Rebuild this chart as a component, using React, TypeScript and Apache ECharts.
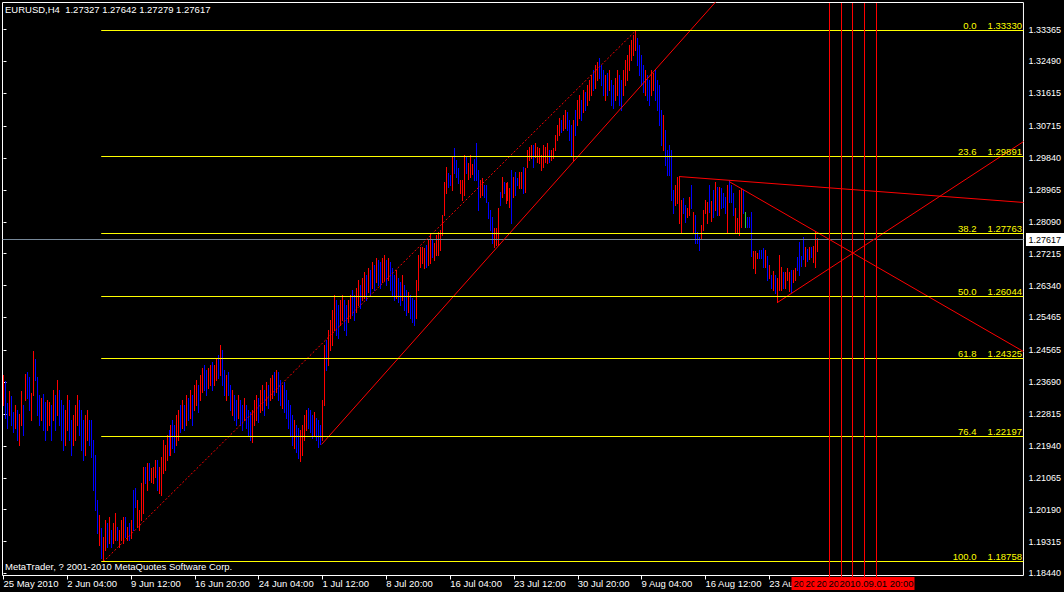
import React, { useEffect, useRef } from "react";
import * as echarts from "echarts";

const FONT = '"Liberation Sans", Arial, sans-serif';

const symbolTitle = "EURUSD,H4  1.27327 1.27642 1.27279 1.27617";
const copyright = "MetaTrader, ? 2001-2010 MetaQuotes Software Corp.";

// bar highs / lows in 1/10000 of a price unit
const barHighs = [
12388,12371,12311,12344,12330,12286,12305,12292,12281,12344,
12305,12390,12396,12382,12338,12453,12431,12382,12333,12324,
12335,12313,12319,12313,12305,12346,12333,12374,12346,12319,
12305,12292,12333,12319,12264,12278,12305,12333,12319,12292,
12264,12278,12292,12264,12264,12209,12168,12045,12004,11968,
11943,11990,11982,11998,11962,11982,12009,11971,11962,11990,
11998,11998,11971,11982,11990,12072,12078,12045,12017,12091,
12135,12135,12146,12146,12132,12135,12154,12154,12135,12162,
12209,12196,12223,12237,12250,12264,12250,12278,12292,12305,
12319,12305,12333,12324,12346,12333,12360,12374,12360,12388,
12407,12415,12401,12407,12415,12423,12415,12434,12442,12470,
12456,12401,12388,12396,12360,12346,12333,12319,12333,12319,
12305,12324,12305,12292,12286,12292,12319,12333,12324,12346,
12360,12346,12368,12360,12379,12388,12396,12401,12396,12374,
12360,12368,12346,12319,12305,12278,12264,12250,12242,12237,
12250,12278,12292,12297,12292,12278,12286,12270,12264,12250,
12319,12470,12484,12511,12539,12566,12607,12593,12580,12593,
12607,12593,12580,12593,12607,12621,12607,12626,12648,12635,
12654,12670,12662,12681,12676,12698,12690,12709,12703,12698,
12709,12717,12703,12709,12698,12681,12662,12676,12654,12643,
12662,12635,12621,12615,12607,12599,12593,12648,12717,12739,
12739,12736,12744,12758,12777,12758,12750,12772,12780,12786,
12827,12917,12958,12942,12936,12986,13011,12978,12956,12923,
12923,12991,12986,12969,12991,12967,12980,13024,12950,12923,
12928,12909,12909,12862,12840,12821,12791,12791,12846,12890,
12931,12917,12914,12917,12901,12950,12931,12945,12928,12945,
12945,12958,12956,13005,13013,13018,13018,13024,13013,13011,
12991,13018,13013,13024,13005,13005,13011,13046,13073,13093,
13087,13101,13115,13109,13087,13073,13087,13115,13142,13156,
13142,13170,13164,13183,13197,13211,13224,13238,13246,13257,
13238,13224,13211,13216,13224,13197,13183,13202,13224,13211,
13197,13224,13252,13265,13293,13307,13320,13333,13312,13293,
13265,13238,13224,13211,13197,13224,13216,13224,13197,13183,
13115,13101,13060,13005,13018,13005,12895,12909,12931,12934,
12868,12873,12854,12846,12876,12909,12835,12827,12780,12766,
12799,12840,12868,12862,12909,12865,12895,12917,12903,12903,
12901,12887,12876,12909,12923,12909,12887,12846,12818,12895,
12901,12895,12835,12821,12821,12835,12728,12728,12722,12731,
12731,12736,12731,12714,12690,12662,12673,12662,12654,12717,
12684,12670,12670,12681,12670,12676,12676,12681,12711,12752,
12714,12766,12739,12733,12739,12739,12741,12783,12764,
];

const barLows = [
12305,12270,12242,12278,12250,12231,12242,12209,12196,12250,
12223,12319,12324,12292,12264,12333,12374,12278,12250,12264,
12237,12209,12237,12250,12209,12264,12237,12278,12250,12209,
12182,12196,12237,12209,12168,12196,12209,12250,12223,12182,
12154,12168,12209,12196,12162,12072,12017,11954,11921,11886,
11876,11907,11916,11927,11916,11927,11935,11935,11916,11935,
11927,11943,11935,11935,11940,11962,12026,11971,11962,11990,
12009,12091,12072,12100,12094,12091,12108,12072,12064,12058,
12119,12127,12154,12168,12168,12187,12176,12196,12209,12231,
12242,12237,12250,12264,12270,12250,12292,12305,12286,12319,
12341,12346,12333,12352,12360,12346,12360,12374,12379,12388,
12360,12333,12319,12333,12292,12278,12264,12250,12270,12250,
12237,12264,12242,12223,12209,12204,12250,12264,12258,12286,
12292,12278,12305,12297,12319,12324,12333,12341,12319,12305,
12297,12286,12270,12242,12223,12196,12187,12176,12160,12151,
12168,12209,12237,12242,12231,12215,12223,12209,12190,12198,
12209,12305,12401,12415,12456,12470,12511,12497,12490,12525,
12539,12511,12497,12533,12544,12552,12539,12561,12580,12572,
12593,12599,12593,12615,12607,12626,12621,12643,12635,12626,
12643,12648,12635,12648,12621,12607,12593,12599,12588,12580,
12593,12566,12552,12561,12544,12533,12525,12544,12621,12684,
12695,12681,12684,12690,12695,12711,12703,12717,12717,12731,
12772,12827,12887,12903,12909,12895,12942,12931,12914,12887,
12868,12881,12942,12925,12931,12939,12923,12923,12840,12876,
12881,12876,12862,12818,12786,12750,12739,12744,12744,12854,
12876,12887,12859,12868,12849,12805,12876,12881,12909,12901,
12901,12887,12890,12958,12978,12983,12958,12986,12972,12969,
12950,12958,12972,12969,12972,12978,12983,13005,13032,13046,
13054,13060,13065,13060,13032,12991,12978,13046,13073,13093,
13087,13109,13115,13128,13142,13156,13170,13175,13197,13203,
13183,13156,13142,13156,13170,13128,13120,13142,13156,13128,
13115,13156,13183,13197,13224,13252,13265,13279,13238,13211,
13183,13164,13156,13142,13128,13156,13170,13142,13115,13073,
13018,13005,12964,12936,12936,12868,12832,12854,12859,12805,
12780,12832,12807,12821,12827,12846,12780,12750,12750,12731,
12763,12786,12832,12805,12835,12810,12821,12840,12827,12827,
12846,12849,12832,12780,12862,12862,12827,12780,12780,12772,
12793,12832,12793,12793,12793,12714,12681,12668,12709,12709,
12709,12684,12684,12648,12654,12626,12621,12613,12588,12621,
12621,12626,12626,12648,12618,12615,12643,12648,12676,12662,
12687,12706,12687,12700,12706,12711,12698,12684,12728,
];

// u = up bar, d = down bar, n = unchanged
const barDirs = [
"uddudduduu","dudduudddu","dduudududd","duudduuudd","duudddddud",
"uududuuduu","udududduuu","ududuuuduu","uuududduud","udududuudu",
"udduuduudu","ddudduddud","duddduuudu","ududuududd","uddddduddu",
"uuuddduddd","uuduuuuddu","udduudduud","uududududd","uududddudd",
"udduddduuu","uuduuduuuu","uuuddudddu","uuduuudddu","uddddduuud",
"uduuududdu","uduuuuduuu","uuuuduuuuu","duuddduduu","duduuuduud",
"ddududduud","duuuuuuudd","ddudduuddd","duddddduuu","udduududdd",
"uuuudududu","ddduddduuu","udnddduuud","ddudududuu","uduuuduudd",
"ddududuuu",
].join("");

const timeTickIdx = [0, 32, 64, 96, 128, 160, 192, 224, 256, 288, 320, 352, 384];
const timeLabels = [
  "25 May 2010", "2 Jun 04:00", "9 Jun 12:00", "16 Jun 20:00", "24 Jun 04:00",
  "1 Jul 12:00", "8 Jul 20:00", "16 Jul 04:00", "23 Jul 12:00", "30 Jul 20:00",
  "9 Aug 04:00", "16 Aug 12:00", "23 Aug 20:00",
];

const priceTicks = [
  1.33365, 1.3249, 1.31615, 1.30715, 1.2984, 1.28965, 1.2809, 1.27215, 1.2634,
  1.25465, 1.24565, 1.2369, 1.22815, 1.2194, 1.21065, 1.2019, 1.19315, 1.1844,
];

const fibLevels = ["0.0", "23.6", "38.2", "50.0", "61.8", "76.4", "100.0"];
const fibPrices = [1.3333, 1.29891, 1.27763, 1.26044, 1.24325, 1.22197, 1.18758];
const fibStartIdx = 49;

const trendStarts = [[159.5, 1.2198], [50, 1.18758], [339, 1.2933], [364, 1.2919], [388, 1.2587]];
const trendEnds = [[368.5, 1.3482], [317, 1.3333], [511.5, 1.2862], [511.5, 1.2453], [511.5, 1.3029]];
const trendDotted = [false, true, false, false, false];

const vlineIdx = [414, 420, 426, 432, 438];
const vlineLabels = [
  "2010.08.28 20:00", "2010.08.29 20:00", "2010.08.30 20:00", "2010.08.31 20:00", "2010.09.01 20:00",
];

const bidPrice = 1.27617;

const X_MIN = -0.5;
const X_MAX = 511.5;
const Y_MIN = 1.18385;
const Y_MAX = 1.34106;

// label box half width, expressed in bar slots (2 px per bar)
const VBOX_HALF_SLOTS = 19;
const CHAR_SLOTS = 2.3;

export default function App() {
  const ref = useRef<HTMLDivElement>(null);

  useEffect(() => {
    document.body.style.margin = "0";
    document.body.style.background = "#000";
    if (!ref.current) return;
    const chart = echarts.init(ref.current, null, { renderer: "svg" });

    const bars = barHighs.map((h, i) => {
      const d = barDirs[i];
      return [i, h / 10000, barLows[i] / 10000, d === "u" ? 1 : d === "d" ? -1 : 0];
    });

    const trendSeries = trendStarts.map((s, k) => ({
      type: "line",
      data: [s, trendEnds[k]],
      symbol: "none",
      silent: true,
      clip: true,
      z: 4,
      lineStyle: { color: "#ff0000", width: 1, type: trendDotted[k] ? [2, 2] : "solid" },
    }));

    const lastV = vlineIdx.length - 1;
    const boxStart = vlineIdx[0] - VBOX_HALF_SLOTS;

    const option: any = {
      animation: false,
      backgroundColor: "#000",
      grid: {
        left: 2.5, top: 2.5, right: 37.5, bottom: 16.5,
        show: true, borderColor: "#ffffff", borderWidth: 1, backgroundColor: "transparent",
      },
      xAxis: {
        type: "value", min: X_MIN, max: X_MAX,
        splitLine: { show: false },
        axisLine: { show: false },
        axisTick: { show: true, customValues: timeTickIdx, length: 4, lineStyle: { color: "#ffffff" } },
        axisLabel: {
          customValues: timeTickIdx,
          formatter: (v: number) => {
            const k = timeTickIdx.indexOf(Math.round(v));
            if (k < 0) return "";
            const label = timeLabels[k];
            const room = Math.ceil((boxStart - timeTickIdx[k]) / CHAR_SLOTS);
            return room < label.length ? label.slice(0, Math.max(0, room)) : label;
          },
          color: "#ffffff", fontSize: 9.5, fontFamily: FONT, align: "left", margin: 3,
        },
      },
      yAxis: {
        type: "value", position: "right", min: Y_MIN, max: Y_MAX,
        splitLine: { show: false },
        axisLine: { show: false },
        axisTick: { show: true, customValues: priceTicks, length: 3, lineStyle: { color: "#ffffff" } },
        axisLabel: {
          customValues: priceTicks,
          formatter: (v: number) => v.toFixed(5),
          color: "#ffffff", fontSize: 9, fontFamily: FONT, margin: 5,
        },
      },
      graphic: [
        { type: "text", left: 5, top: 4, z: 100, style: { text: symbolTitle, fill: "#ffffff", fontSize: 9.5, fontFamily: FONT } },
        { type: "text", left: 5, top: 561, z: 100, style: { text: copyright, fill: "#ffffff", fontSize: 9.5, fontFamily: FONT } },
      ],
      series: [
        {
          type: "custom",
          silent: true,
          z: 3,
          data: [[0, bidPrice]],
          clip: false,
          renderItem: (params: any, api: any) => {
            const cs = params.coordSys;
            const p = api.coord([0, api.value(1)]);
            const y = Math.round(p[1] - 0.5) + 0.5;
            return {
              type: "group",
              children: [
                { type: "line", shape: { x1: cs.x, y1: y, x2: cs.x + cs.width, y2: y }, style: { stroke: "#778899", lineWidth: 1 } },
                { type: "rect", shape: { x: cs.x + cs.width + 2.5, y: y - 6.5, width: 40, height: 13 }, style: { fill: "#ffffff" } },
                {
                  type: "text",
                  style: {
                    text: api.value(1).toFixed(5), x: cs.x + cs.width + 5, y: y,
                    align: "left", verticalAlign: "middle", fill: "#000000", fontSize: 9, fontFamily: FONT,
                  },
                },
              ],
            };
          },
        },
        {
          type: "custom",
          silent: true,
          z: 2,
          data: bars,
          encode: { x: 0, y: [1, 2] },
          renderItem: (params: any, api: any) => {
            const i = api.value(0);
            const hi = api.coord([i, api.value(1)]);
            const lo = api.coord([i, api.value(2)]);
            const dir = api.value(3);
            const x = Math.floor(hi[0]) + 0.5;
            return {
              type: "line",
              shape: { x1: x, y1: Math.floor(hi[1]), x2: x, y2: Math.ceil(lo[1]) },
              style: { stroke: dir > 0 ? "#ff0000" : dir < 0 ? "#0000ff" : "#32cd32", lineWidth: 1 },
            };
          },
        },
        {
          type: "custom",
          silent: true,
          z: 5,
          clip: false,
          data: fibPrices.map((p, k) => [fibStartIdx, p, k]),
          renderItem: (params: any, api: any) => {
            const cs = params.coordSys;
            const p = api.coord([api.value(0), api.value(1)]);
            const y = Math.round(p[1] - 0.5) + 0.5;
            const right = cs.x + cs.width;
            const k = api.value(2);
            return {
              type: "group",
              children: [
                { type: "line", shape: { x1: p[0], y1: y, x2: right, y2: y }, style: { stroke: "#ffff00", lineWidth: 1 } },
                {
                  type: "text",
                  style: { text: fibLevels[k], x: right - 47, y: y, align: "right", verticalAlign: "bottom", fill: "#ffff00", fontSize: 9.5, fontFamily: FONT },
                },
                {
                  type: "text",
                  style: { text: fibPrices[k].toFixed(5), x: right - 1.5, y: y, align: "right", verticalAlign: "bottom", fill: "#ffff00", fontSize: 9.5, fontFamily: FONT },
                },
              ],
            };
          },
        },
        ...trendSeries,
        {
          type: "custom",
          silent: true,
          z: 6,
          clip: false,
          data: vlineIdx.map((v) => [v, Y_MIN]),
          renderItem: (params: any, api: any) => {
            const cs = params.coordSys;
            const p = api.coord([api.value(0), Y_MIN]);
            const x = Math.floor(p[0]) + 0.5;
            const bottom = cs.y + cs.height;
            const isLast = params.dataIndex === lastV;
            const full = vlineLabels[params.dataIndex];
            return {
              type: "group",
              children: [
                { type: "line", shape: { x1: x, y1: cs.y + 0.5, x2: x, y2: bottom + 4 }, style: { stroke: "#ff0000", lineWidth: 1 } },
                { type: "rect", shape: { x: x - 38, y: bottom + 1.5, width: 76, height: 13 }, style: { fill: "#ff0000" } },
                {
                  type: "text",
                  style: {
                    text: isLast ? full : full.slice(0, 2),
                    x: isLast ? x : x - 36,
                    y: bottom + 8,
                    align: isLast ? "center" : "left", verticalAlign: "middle", fill: "#000000", fontSize: 9.5, fontFamily: FONT,
                  },
                },
              ],
            };
          },
        },
      ],
    };

    chart.setOption(option);
    return () => chart.dispose();
  }, []);

  return <div ref={ref} style={{ width: 1064, height: 592, background: "#000" }} />;
}
